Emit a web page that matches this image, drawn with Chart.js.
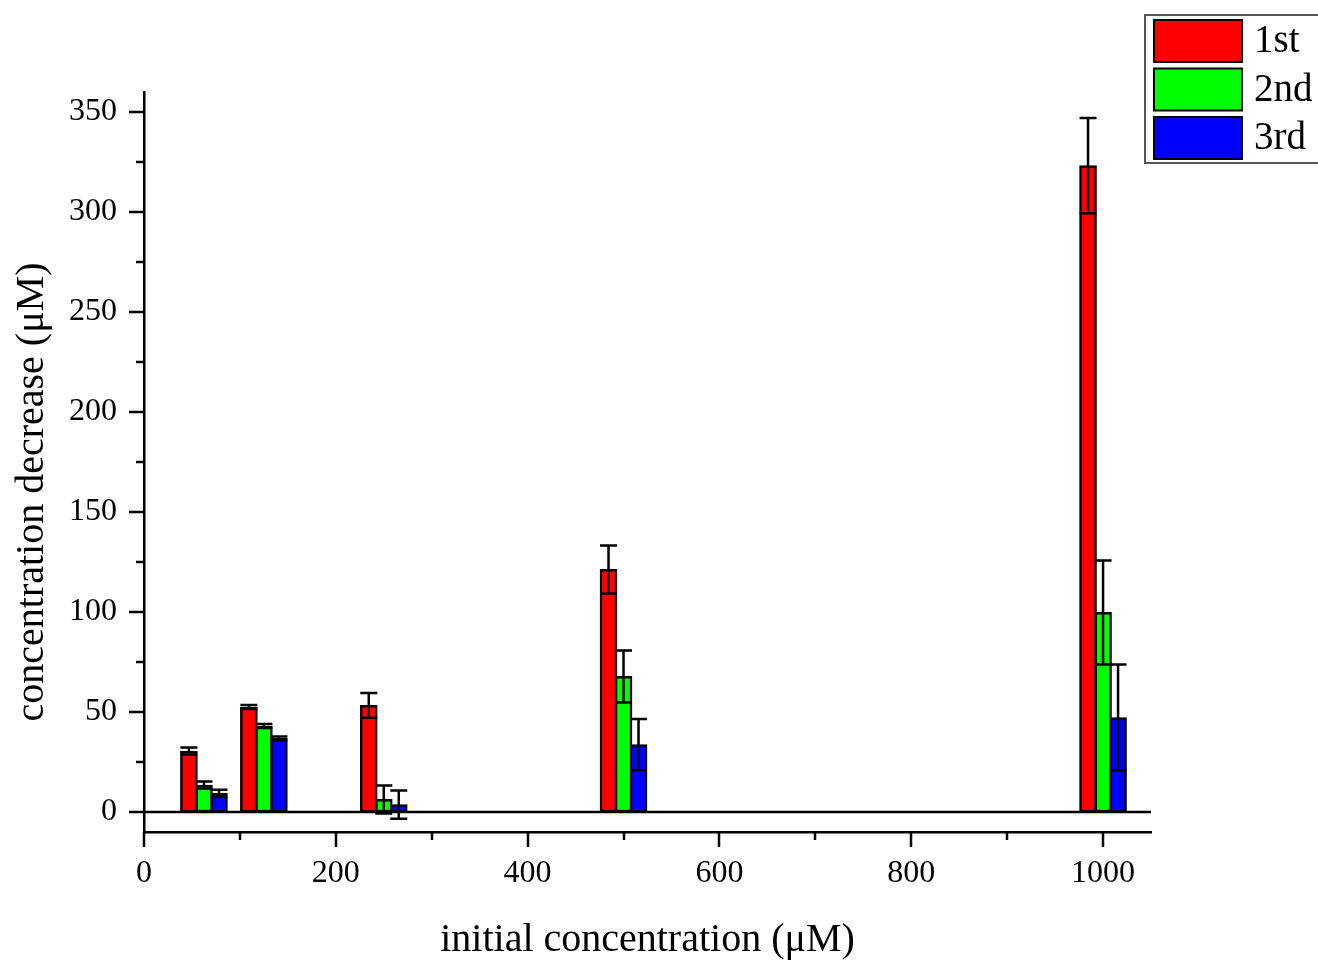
<!DOCTYPE html>
<html>
<head>
<meta charset="utf-8">
<script src="https://cdn.jsdelivr.net/npm/chart.js@4"></script>
<style>
  html, body { margin: 0; padding: 0; background: #fff; }
</style>
</head>
<body>
<canvas id="myChart" width="1318" height="961"></canvas>
<script>
// initial concentration of each group (µM)
const initialConc = [62.5, 125, 250, 500, 1000];
// concentration decrease per cycle (µM)
const firstRun = [30.5, 52.5, 53.3, 121.3, 323.2];
const secondRun = [13.5, 43, 6.3, 67.8, 99.8];
const thirdRun = [9.3, 36.8, 3.7, 33.7, 47.2];
// standard deviations
const firstErr = [1.8, 1, 6.2, 12, 23.8];
const secondErr = [1.8, 1, 7, 13, 26];
const thirdErr = [1.8, 1, 7.1, 12.8, 26.5];

const runLabels = ["1st", "2nd", "3rd"];
const xTicks = [0, 200, 400, 600, 800, 1000];
const xMinorTicks = [100, 300, 500, 700, 900];
const yTicks = [0, 50, 100, 150, 200, 250, 300, 350];
const yMinorTicks = [25, 75, 125, 175, 225, 275, 325];

const serif = "'Liberation Serif', 'Times New Roman', serif";
const colors = ["#ff0000", "#00ff00", "#0000ff"];
const runs = [firstRun, secondRun, thirdRun];
const errors = [firstErr, secondErr, thirdErr];
const barStep = 15.65; // x units between neighbouring bars of one group

const datasets = runs.map((serie, s) => ({
    label: runLabels[s],
    data: serie.map((v, i) => ({ x: initialConc[i] + (s - 1) * barStep, y: v })),
    backgroundColor: colors[s],
    borderColor: "#000",
    borderWidth: 2.5,
    borderSkipped: false,
    barThickness: 17,
    grouped: false,
}));

// black error bars with caps on both ends
const errorBars = {
    id: "errorBars",
    afterDatasetsDraw(chart) {
        const ctx = chart.ctx;
        const y = chart.scales.y;
        ctx.save();
        ctx.strokeStyle = "#000";
        ctx.lineWidth = 2.5;
        chart.data.datasets.forEach((ds, s) => {
            chart.getDatasetMeta(s).data.forEach((bar, i) => {
                const v = ds.data[i].y;
                const e = errors[s][i];
                const top = y.getPixelForValue(v + e);
                const bottom = y.getPixelForValue(v - e);
                ctx.beginPath();
                ctx.moveTo(bar.x, top);
                ctx.lineTo(bar.x, bottom);
                ctx.moveTo(bar.x - 8.5, top);
                ctx.lineTo(bar.x + 8.5, top);
                ctx.moveTo(bar.x - 8.5, bottom);
                ctx.lineTo(bar.x + 8.5, bottom);
                ctx.stroke();
            });
        });
        ctx.restore();
    }
};

// tick marks, zero line, y title and the boxed legend
const decorations = {
    id: "decorations",
    afterDraw(chart) {
        const ctx = chart.ctx;
        const x = chart.scales.x;
        const y = chart.scales.y;
        const left = chart.chartArea.left;
        const bottom = chart.chartArea.bottom;
        ctx.save();
        ctx.strokeStyle = "#000";
        ctx.lineWidth = 2.5;
        ctx.beginPath();
        yTicks.forEach((v) => {
            const py = Math.round(y.getPixelForValue(v));
            ctx.moveTo(left - 15, py);
            ctx.lineTo(left, py);
        });
        yMinorTicks.forEach((v) => {
            const py = Math.round(y.getPixelForValue(v));
            ctx.moveTo(left - 8, py);
            ctx.lineTo(left, py);
        });
        xTicks.forEach((v) => {
            const px = Math.round(x.getPixelForValue(v));
            ctx.moveTo(px, bottom);
            ctx.lineTo(px, bottom + 15);
        });
        xMinorTicks.forEach((v) => {
            const px = Math.round(x.getPixelForValue(v));
            ctx.moveTo(px, bottom);
            ctx.lineTo(px, bottom + 8);
        });
        const zero = Math.round(y.getPixelForValue(0));
        ctx.moveTo(left - 15, zero);
        ctx.lineTo(chart.chartArea.right, zero);
        ctx.stroke();

        // y axis title
        ctx.fillStyle = "#000";
        ctx.font = "40px " + serif;
        ctx.textAlign = "center";
        ctx.textBaseline = "middle";
        ctx.translate(32, 492);
        ctx.rotate(-Math.PI / 2);
        ctx.fillText("concentration decrease (μM)", 0, 0);
        ctx.setTransform(1, 0, 0, 1, 0, 0);

        // legend
        ctx.strokeStyle = "#555";
        ctx.lineWidth = 2;
        ctx.strokeRect(1145, 15, 200, 148);
        ctx.font = "39px " + serif;
        ctx.textAlign = "left";
        chart.data.datasets.forEach((ds, s) => {
            const top = 20 + s * 48.5;
            ctx.fillStyle = ds.backgroundColor;
            ctx.fillRect(1154, top, 88, 42);
            ctx.strokeStyle = "#000";
            ctx.lineWidth = 2;
            ctx.strokeRect(1154, top, 88, 42);
            ctx.fillStyle = "#000";
            ctx.fillText(ds.label, 1254, top + 22);
        });
        ctx.restore();
    }
};

new Chart(document.querySelector("#myChart").getContext("2d"), {
    type: "bar",
    data: { datasets },
    options: {
        responsive: false,
        animation: false,
        layout: { padding: { top: 92, right: 167, left: 0, bottom: 0 } },
        plugins: {
            legend: { display: false },
            tooltip: { enabled: false }
        },
        scales: {
            x: {
                type: "linear",
                offset: false,
                min: 0,
                max: 1050,
                afterBuildTicks: (scale) => { scale.ticks = xTicks.map((v) => ({ value: v })); },
                afterFit: (scale) => { scale.height = 129; },
                grid: { display: false, drawTicks: false },
                border: { display: true, color: "#000", width: 2.5 },
                ticks: {
                    color: "#000",
                    font: { family: serif, size: 32 },
                    padding: 22,
                    maxRotation: 0,
                    autoSkip: false,
                    callback: (v) => String(v)
                },
                title: {
                    display: true,
                    text: "initial concentration (μM)",
                    color: "#000",
                    font: { family: serif, size: 40 },
                    padding: { top: 0, bottom: -3 }
                }
            },
            y: {
                min: -10,
                max: 360,
                afterBuildTicks: (scale) => { scale.ticks = yTicks.map((v) => ({ value: v })); },
                afterFit: (scale) => { scale.width = 144; },
                grid: { display: false, drawTicks: false },
                border: { display: true, color: "#000", width: 2.5 },
                ticks: {
                    color: "#000",
                    font: { family: serif, size: 32 },
                    padding: 27
                }
            }
        }
    },
    plugins: [errorBars, decorations]
});
</script>
</body>
</html>
